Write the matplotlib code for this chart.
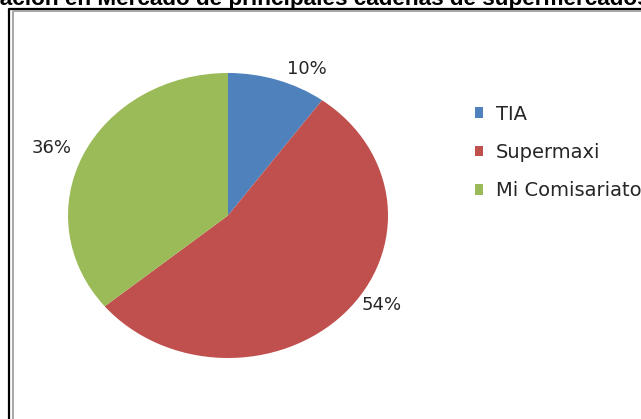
import matplotlib
matplotlib.use('Agg')
import matplotlib.pyplot as plt
from matplotlib.lines import Line2D

# Data
cadenas = ['TIA', 'Supermaxi', 'Mi Comisariato']
participacion = [10, 54, 36]
colores = ['#4F81BD', '#C0504D', '#9BBB59']
titulo = 'Participación en Mercado de principales cadenas de supermercados'

W, H = 641, 419
fig = plt.figure(figsize=(W / 100, H / 100), dpi=100)

# Title (clipped at the top, as in the source page)
fig.text(-83 / W, 1 - 5 / H, titulo, ha='left', va='baseline',
         fontsize=16.2, fontweight='bold', family='Liberation Sans', color='black')

# Chart frame: black outer line and grey inner line, running off the right/bottom edges
def px(x, y):
    return x / W, 1 - y / H

for (x0, y0), col, lw in [((9, 9), 'black', 1.6), ((12.5, 11.5), '#a6a6a6', 1.4)]:
    xs, ys = zip(px(x0, H + 5), px(x0, y0), px(W + 5, y0))
    fig.add_artist(Line2D(xs, ys, color=col, linewidth=lw, transform=fig.transFigure))

# Pie (slightly stretched horizontally, like the source)
ax = fig.add_axes([68 / W, (H - 358) / H, 320 / W, 285 / H])
wedges, texts, autotexts = ax.pie(participacion, colors=colores, startangle=90,
                                  counterclock=False, radius=1,
                                  autopct='%1.0f%%',
                                  wedgeprops=dict(linewidth=0),
                                  textprops=dict(fontsize=13, color='#262626',
                                                 family='DejaVu Sans'))
ax.set_aspect('auto')
ax.set_xlim(-1, 1)
ax.set_ylim(-1, 1)

# Label placement (best-fit positions outside the slices)
label_xy = [(0.494, 1.03), (0.9625, -0.628), (-1.10, 0.474)]
for t, (lx, ly) in zip(autotexts, label_xy):
    t.set_position((lx, ly))
    t.set_ha('center')
    t.set_va('center')

leg = fig.legend(wedges, cadenas, loc='upper left',
                 bbox_to_anchor=(475 / W, 1 - 104.5 / H),
                 bbox_transform=fig.transFigure, frameon=False,
                 borderpad=0, borderaxespad=0,
                 handlelength=0.41, handleheight=0.47, handletextpad=0.67,
                 labelspacing=1.0,
                 prop=dict(family='DejaVu Sans', size=14))
for t in leg.get_texts():
    t.set_color('#262626')

fig.savefig('out.png', dpi=100)
